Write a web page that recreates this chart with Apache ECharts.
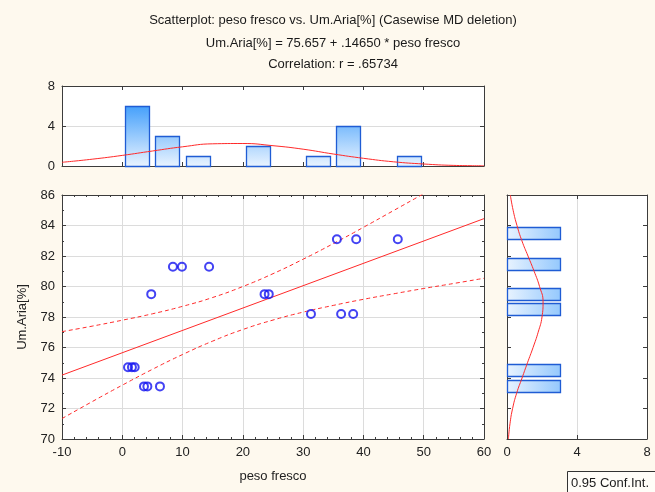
<!DOCTYPE html>
<html><head><meta charset="utf-8">
<script src="https://cdn.jsdelivr.net/npm/echarts@6/dist/echarts.min.js"></script>
<style>html,body{margin:0;padding:0;background:#FEF9EE;}#c{width:655px;height:492px;}</style>
</head><body><div id="c"></div>
<script>
// ---- data ----
const titleLines = ['Scatterplot: peso fresco vs. Um.Aria[%] (Casewise MD deletion)', 'Um.Aria[%] = 75.657 + .14650 * peso fresco', 'Correlation: r = .65734'];
const xName = 'peso fresco';
const yName = 'Um.Aria[%]';
const legendText = '0.95 Conf.Int.';

const pesoFresco = [8.4, 9.9, 14.4, 4.8, 0.95, 1.6, 2.06, 3.6, 4.16, 6.25, 23.6, 24.3, 31.3, 36.3, 38.3, 35.6, 38.8, 45.7];
const umAria     = [81.3, 81.3, 81.3, 79.5, 74.7, 74.7, 74.7, 73.45, 73.45, 73.45, 79.5, 79.5, 78.2, 78.2, 78.2, 83.1, 83.1, 83.1];

const fitX = [-10, 60];
const fitY = [74.19, 84.45];

const bandX     = [-10, -5, 0, 5, 10, 15, 20, 25, 30, 35, 40, 45, 50, 55, 60];
const bandUpper = [77.04, 77.40, 77.79, 78.21, 78.70, 79.28, 80.00, 80.84, 81.79, 82.81, 83.88, 84.98, 86.09, 87.22, 88.36];
const bandLower = [71.34, 72.45, 73.53, 74.57, 75.54, 76.42, 77.18, 77.80, 78.32, 78.76, 79.16, 79.52, 79.87, 80.20, 80.54];

const xBinLo  = [0, 5, 10, 20, 30, 35, 45];
const xBinHi  = [5, 10, 15, 25, 35, 40, 50];
const xCounts = [6, 3, 1, 2, 1, 4, 1];
const xCurveX = [-10, -5, 0, 5, 10, 15, 20, 25, 30, 35, 40, 45, 50, 55, 60];
const xCurveY = [0.37, 0.68, 1.06, 1.5, 1.92, 2.22, 2.25, 2.03, 1.68, 1.2, 0.77, 0.42, 0.2, 0.06, 0.02];

const yBinLo  = [73, 74, 78, 79, 81, 83];
const yBinHi  = [74, 75, 79, 80, 82, 84];
const yCounts = [3, 3, 3, 3, 3, 3];
const yCurveY = [70, 71, 72, 73, 74, 75, 76, 77, 78, 79, 80, 81, 82, 83, 84, 85, 86];
const yCurveX = [0.08, 0.17, 0.32, 0.55, 0.86, 1.17, 1.49, 1.78, 2.0, 2.06, 1.86, 1.55, 1.2, 0.85, 0.57, 0.35, 0.19];

const xTicks = {min: -10, max: 60, interval: 10};
const yTicks = {min: 70, max: 86, interval: 2};
const cTicks = {min: 0, max: 8, interval: 4};

// ---- chart ----
const FONT = '"Liberation Sans", Arial, sans-serif';
const AX = '#3c3c3c';
const GRID_LINE = '#dcdcdc';
const RED = '#ff2a2a';
const BLUE_STROKE = '#1f5cd4';

function axisBase(extra) {
  return Object.assign({
    type: 'value',
    axisLine: {show: true, onZero: false, lineStyle: {color: AX, width: 1}},
    axisTick: {show: true, inside: true, length: 4, lineStyle: {color: AX}},
    axisLabel: {show: false, fontFamily: FONT, fontSize: 13, color: '#222'},
    splitLine: {show: false, lineStyle: {color: GRID_LINE}},
  }, extra);
}

const chart = echarts.init(document.getElementById('c'), null, {renderer: 'canvas'});

const scatterData = pesoFresco.map((x, i) => [x, umAria[i]]);
const fitData = fitX.map((x, i) => [x, fitY[i]]);
const upData = bandX.map((x, i) => [x, bandUpper[i]]);
const loData = bandX.map((x, i) => [x, bandLower[i]]);
const xHistData = xBinLo.map((lo, i) => [lo, xBinHi[i], xCounts[i]]);
const xCurve = xCurveX.map((x, i) => [x, xCurveY[i]]);
const yHistData = yBinLo.map((lo, i) => [lo, yBinHi[i], yCounts[i]]);
const yCurve = yCurveY.map((y, i) => [yCurveX[i], y]);

const stops = [
  {offset: 0, color: '#2a8cf6'},
  {offset: 0.25, color: '#45a0fb'},
  {offset: 1, color: '#e8f3ff'}
];
const stopsH = [
  {offset: 0, color: '#e8f3ff'},
  {offset: 0.75, color: '#45a0fb'},
  {offset: 1, color: '#2a8cf6'}
];

const option = {
  backgroundColor: '#FEF9EE',
  animation: false,
  textStyle: {fontFamily: FONT},
  grid: [
    {left: 62, top: 195, width: 422, height: 244, show: true, backgroundColor: '#fff', borderWidth: 0},
    {left: 62, top: 86, width: 422, height: 80, show: true, backgroundColor: '#fff', borderWidth: 0},
    {left: 507, top: 195, width: 140, height: 244, show: true, backgroundColor: '#fff', borderWidth: 0}
  ],
  xAxis: [
    axisBase(Object.assign({gridIndex: 0, position: 'bottom', name: xName, nameLocation: 'middle', nameGap: 31,
      nameTextStyle: {fontFamily: FONT, fontSize: 13, color: '#222'},
      axisLabel: {show: true, fontFamily: FONT, fontSize: 13, color: '#222', margin: 7},
      splitLine: {show: true, lineStyle: {color: GRID_LINE}},
      minorTick: {show: true, splitNumber: 5, length: 2, lineStyle: {color: AX}}}, xTicks)),
    axisBase(Object.assign({gridIndex: 0, position: 'top',
      minorTick: {show: true, splitNumber: 5, length: 2, lineStyle: {color: AX}}}, xTicks)),
    axisBase(Object.assign({gridIndex: 1, position: 'bottom'}, xTicks)),
    axisBase(Object.assign({gridIndex: 1, position: 'top'}, xTicks)),
    axisBase(Object.assign({gridIndex: 2, position: 'bottom',
      axisLabel: {show: true, fontFamily: FONT, fontSize: 13, color: '#222', margin: 7},
      splitLine: {show: true, lineStyle: {color: GRID_LINE}}}, cTicks)),
    axisBase(Object.assign({gridIndex: 2, position: 'top'}, cTicks))
  ],
  yAxis: [
    axisBase(Object.assign({gridIndex: 0, position: 'left', name: yName, nameLocation: 'middle', nameGap: 33,
      nameTextStyle: {fontFamily: FONT, fontSize: 13, color: '#222'},
      axisLabel: {show: true, fontFamily: FONT, fontSize: 13, color: '#222', margin: 7},
      splitLine: {show: true, lineStyle: {color: GRID_LINE}},
      minorTick: {show: true, splitNumber: 2, length: 2, lineStyle: {color: AX}}}, yTicks)),
    axisBase(Object.assign({gridIndex: 0, position: 'right',
      minorTick: {show: true, splitNumber: 2, length: 2, lineStyle: {color: AX}}}, yTicks)),
    axisBase(Object.assign({gridIndex: 1, position: 'left',
      axisLabel: {show: true, fontFamily: FONT, fontSize: 13, color: '#222', margin: 7},
      splitLine: {show: true, lineStyle: {color: GRID_LINE}}}, cTicks)),
    axisBase(Object.assign({gridIndex: 1, position: 'right'}, cTicks)),
    axisBase(Object.assign({gridIndex: 2, position: 'left'}, yTicks)),
    axisBase(Object.assign({gridIndex: 2, position: 'right'}, yTicks))
  ],
  graphic: [
    {type: 'text', x: 333, y: 20, silent: true, style: {text: titleLines[0], font: '13px ' + FONT, fill: '#1a1a1a', align: 'center', verticalAlign: 'middle'}},
    {type: 'text', x: 333, y: 43, silent: true, style: {text: titleLines[1], font: '13px ' + FONT, fill: '#1a1a1a', align: 'center', verticalAlign: 'middle'}},
    {type: 'text', x: 333, y: 64, silent: true, style: {text: titleLines[2], font: '13px ' + FONT, fill: '#1a1a1a', align: 'center', verticalAlign: 'middle'}},
    {type: 'rect', silent: true, shape: {x: 567.5, y: 471.5, width: 95, height: 25},
      style: {fill: '#fffdf8', stroke: '#333', lineWidth: 1}},
    {type: 'text', x: 571, y: 483, silent: true, style: {text: legendText, font: '13px ' + FONT, fill: '#1a1a1a', align: 'left', verticalAlign: 'middle'}}
  ],
  series: [
    {
      type: 'line', xAxisIndex: 0, yAxisIndex: 0, data: upData, smooth: true, symbol: 'none', clip: true,
      lineStyle: {color: RED, width: 1, type: [4, 3]}, z: 3
    },
    {
      type: 'line', xAxisIndex: 0, yAxisIndex: 0, data: loData, smooth: true, symbol: 'none', clip: true,
      lineStyle: {color: RED, width: 1, type: [4, 3]}, z: 3
    },
    {
      type: 'line', xAxisIndex: 0, yAxisIndex: 0, data: fitData, symbol: 'none', clip: true,
      lineStyle: {color: RED, width: 1}, z: 3
    },
    {
      type: 'scatter', xAxisIndex: 0, yAxisIndex: 0, data: scatterData, symbol: 'circle', symbolSize: 8,
      itemStyle: {color: 'rgba(0,0,0,0)', borderColor: '#1414f0', borderWidth: 2}, z: 4
    },
    {
      type: 'custom', xAxisIndex: 2, yAxisIndex: 2, data: xHistData, z: 2,
      renderItem: function (params, api) {
        const lo = api.value(0), hi = api.value(1), c = api.value(2);
        const p0 = api.coord([lo, 0]);
        const p1 = api.coord([hi, c]);
        const yTop = api.coord([lo, cTicks.max])[1];
        const inset = 3;
        return {
          type: 'rect',
          shape: {x: Math.round(p0[0] + inset) + 0.5, y: Math.round(p1[1]) + 0.5, width: Math.round(p1[0] - p0[0] - 2 * inset), height: Math.round(p0[1] - p1[1])},
          style: {
            fill: {type: 'linear', x: 0, y: yTop, x2: 0, y2: p0[1], global: true, colorStops: stops},
            stroke: BLUE_STROKE, lineWidth: 1.3
          }
        };
      }
    },
    {
      type: 'line', xAxisIndex: 2, yAxisIndex: 2, data: xCurve, smooth: true, symbol: 'none',
      lineStyle: {color: RED, width: 1}, z: 3
    },
    {
      type: 'custom', xAxisIndex: 4, yAxisIndex: 4, data: yHistData, z: 2,
      renderItem: function (params, api) {
        const lo = api.value(0), hi = api.value(1), c = api.value(2);
        const p0 = api.coord([0, lo]);
        const p1 = api.coord([c, hi]);
        const xRight = api.coord([cTicks.max, lo])[0];
        const inset = 1.6;
        return {
          type: 'rect',
          shape: {x: Math.round(p0[0]) + 0.5, y: Math.round(p1[1] + inset) + 0.5, width: Math.round(p1[0] - p0[0]), height: Math.round(p0[1] - p1[1] - 2 * inset)},
          style: {
            fill: {type: 'linear', x: p0[0], y: 0, x2: xRight, y2: 0, global: true, colorStops: stopsH},
            stroke: BLUE_STROKE, lineWidth: 1.3
          }
        };
      }
    },
    {
      type: 'line', xAxisIndex: 4, yAxisIndex: 4, data: yCurve, smooth: true, symbol: 'none',
      lineStyle: {color: RED, width: 1}, z: 3
    }
  ]
};
chart.setOption(option);
</script>
</body></html>
